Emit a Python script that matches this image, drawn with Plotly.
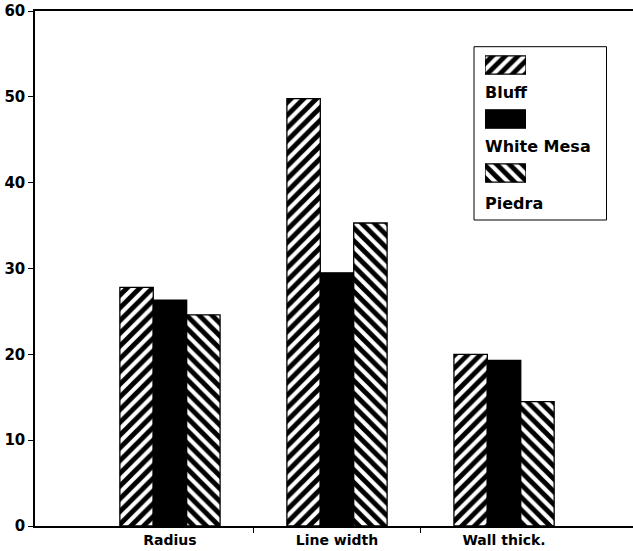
import plotly.graph_objects as go

categories = ["Radius", "Line width", "Wall thick."]
series_names = ["Bluff", "White Mesa", "Piedra"]
bluff = [27.8, 49.8, 20.0]
white_mesa = [26.3, 29.5, 19.3]
piedra = [24.6, 35.3, 14.5]
y_ticks = [0, 10, 20, 30, 40, 50, 60]

values = [bluff, white_mesa, piedra]
shapes = ["/", "", "\\"]
fills = ["white", "black", "white"]

W, H = 633, 551
L, R, T, B = 35, 0, 11, 25
PW, PH = W - L - R, H - T - B


def px(x):
    return (x - L) / PW


def py(y):
    return (H - B - y) / PH


def marker(shp, fc):
    return dict(color=fc, line=dict(color="black", width=1.3),
                pattern=dict(shape=shp, fgcolor="black", bgcolor="white",
                             fgopacity=1, size=9, solidity=0.55) if shp else None)


xpos = list(range(len(categories)))
fig = go.Figure()
for name, vals, shp, fc in zip(series_names, values, shapes, fills):
    fig.add_trace(go.Bar(x=xpos, y=vals, name=name, showlegend=False,
                         marker=marker(shp, fc)))

# legend swatches: one horizontal bar per series on an inset axis
for name, shp, fc in zip(series_names, shapes, fills):
    fig.add_trace(go.Bar(
        y=[name], x=[1], orientation="h", xaxis="x2", yaxis="y2",
        offsetgroup="legend", width=0.34, showlegend=False, hoverinfo="skip",
        marker=marker(shp, fc)))

fnt = dict(family="DejaVu Sans, Liberation Sans, Arial, sans-serif", color="black", weight="bold")

annotations = []
label_y = [92.7, 147.0, 203.0]
for name, ly in zip(series_names, label_y):
    annotations.append(dict(text=name, xref="paper", yref="paper", x=px(483), y=py(ly),
                            xanchor="left", yanchor="middle", showarrow=False,
                            font=dict(size=16, **fnt)))

fig.update_layout(
    width=W, height=H,
    margin=dict(l=L, r=R, t=T, b=B, autoexpand=False),
    paper_bgcolor="white", plot_bgcolor="white",
    barmode="group", bargap=0.4, bargroupgap=0,
    showlegend=False,
    xaxis=dict(range=[-0.808, 2.772], tickvals=xpos, ticktext=categories,
               ticks="", showgrid=False, zeroline=False, automargin=False,
               showline=True, linecolor="black", linewidth=1.5, mirror=True,
               tickfont=dict(size=14, **fnt),
               minor=dict(tickvals=[0.5, 1.5], ticks="outside", ticklen=5,
                          tickcolor="black", showgrid=False)),
    yaxis=dict(range=[0, 60], tickvals=y_ticks, ticks="outside", ticklen=5,
               tickcolor="black", showgrid=False, zeroline=False, automargin=False,
               showline=True, linecolor="black", linewidth=1.5,
               tickfont=dict(size=15, **fnt)),
    xaxis2=dict(domain=[px(485), px(526)], range=[0, 1], visible=False,
                anchor="y2", fixedrange=True),
    yaxis2=dict(domain=[py(200), py(38)], autorange="reversed", visible=False,
                anchor="x2", type="category", fixedrange=True),
    shapes=[dict(type="rect", xref="paper", yref="paper",
                 x0=px(474), x1=px(606.5), y0=py(220), y1=py(46.7),
                 line=dict(color="black", width=1), fillcolor="rgba(0,0,0,0)",
                 layer="above")],
    annotations=annotations,
)
fig.write_html("out.html", config={"displayModeBar": False},
               post_script="document.body.style.margin='0px';document.body.style.overflow='hidden';")
